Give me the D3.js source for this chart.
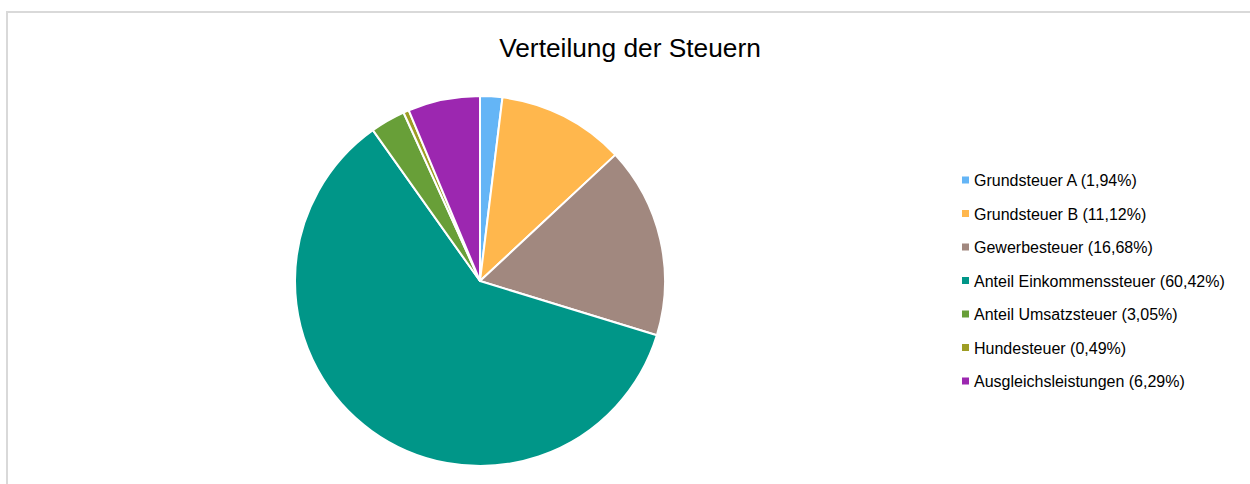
<!DOCTYPE html>
<html>
<head>
<meta charset="utf-8">
<script src="https://cdn.jsdelivr.net/npm/d3@7"></script>
<style>
  body { margin: 0; background: #fff; }
  svg { display: block; font-family: "Liberation Sans", Arial, sans-serif; }
</style>
</head>
<body>
<svg></svg>
<script>
const labels = [
    "Grundsteuer A",
    "Grundsteuer B",
    "Gewerbesteuer",
    "Anteil Einkommenssteuer",
    "Anteil Umsatzsteuer",
    "Hundesteuer",
    "Ausgleichsleistungen"
];
const shares = [1.94, 11.12, 16.68, 60.42, 3.05, 0.49, 6.29];
const colors = ["#64b5f6", "#ffb74d", "#a1887f", "#009688", "#689f38", "#9e9d24", "#9c27b0"];

const width = 1250,
    height = 484;
const cx = 480,
    cy = 281,
    radius = 185;

const svg = d3.select("svg").attr("width", width).attr("height", height);

// chart frame
svg.append("rect")
    .attr("x", 7)
    .attr("y", 12)
    .attr("width", width + 10)
    .attr("height", height + 10)
    .attr("fill", "#fff")
    .attr("stroke", "#d9d9d9")
    .attr("stroke-width", 2);

svg.append("text")
    .attr("x", 630)
    .attr("y", 57)
    .attr("text-anchor", "middle")
    .attr("font-size", 26.3)
    .attr("fill", "#000")
    .text("Verteilung der Steuern");

const values = labels.map((d, i) => ({ label: d, value: shares[i], color: colors[i] }));

const pie = d3.pie().sort(null).value((d) => d.value);
const arc = d3.arc().innerRadius(0).outerRadius(radius);

svg.append("g")
    .attr("transform", "translate(" + cx + "," + cy + ")")
    .selectAll("path")
    .data(pie(values))
    .enter()
    .append("path")
    .attr("d", arc)
    .attr("fill", (d) => d.data.color)
    .attr("stroke", "#fff")
    .attr("stroke-width", 2)
    .attr("stroke-linejoin", "round");

const fmt = (v) => v.toFixed(2).replace(".", ",");

const legendY = d3.scalePoint()
    .domain(labels)
    .range([180, 381]);

const legend = svg.append("g")
    .selectAll("g")
    .data(values)
    .enter()
    .append("g")
    .attr("transform", (d) => "translate(962," + legendY(d.label) + ")");

legend.append("rect")
    .attr("x", 0)
    .attr("y", -3.5)
    .attr("width", 7)
    .attr("height", 7)
    .attr("fill", (d) => d.color);

legend.append("text")
    .attr("x", 12)
    .attr("y", 6)
    .attr("font-size", 16)
    .attr("fill", "#000")
    .text((d) => d.label + " (" + fmt(d.value) + "%)");
</script>
</body>
</html>
